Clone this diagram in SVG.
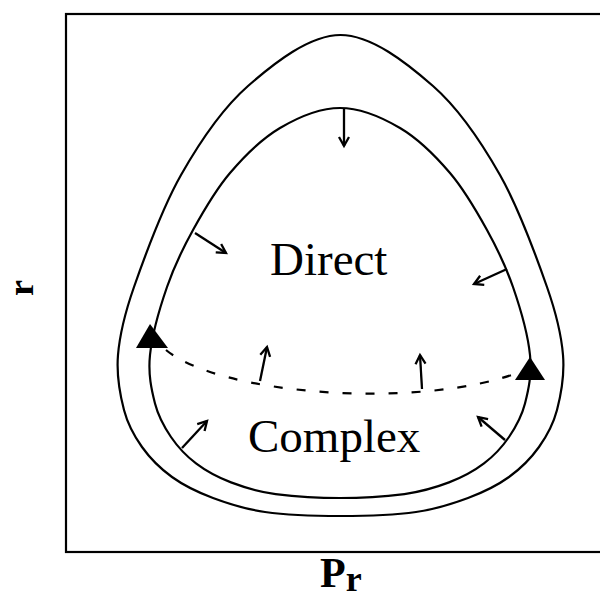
<svg xmlns="http://www.w3.org/2000/svg" width="600" height="599" viewBox="0 0 600 599">
<style>
.curve{fill:none;stroke:#000;stroke-width:2.2}
.arr{fill:none;stroke:#000;stroke-width:2.3;marker-end:url(#ah)}
.lbl{font-family:"Liberation Serif","Times New Roman",serif;font-size:47px;fill:#000}
.ax{font-family:"Liberation Serif","Times New Roman",serif;font-weight:bold;fill:#000}
</style>
<defs>
<marker id="ah" markerUnits="userSpaceOnUse" markerWidth="14" markerHeight="14" viewBox="-11 -7 14 14" refX="0" refY="0" orient="auto">
<path d="M-9,-5 L0,0 L-9,5" fill="none" stroke="#000" stroke-width="2.3"/>
</marker>
</defs>
<rect x="0" y="0" width="600" height="599" fill="#fff"/>
<g id="frame">
<rect x="66" y="14" width="540" height="538" fill="none" stroke="#000" stroke-width="2.2"/>
</g>
<g id="outer">
<path class="curve" d="M340.5,35 C371.3,35 406.4,62.7 433,86 C459.6,109.3 481,141.5 500,175 C519,208.5 536.5,257 547,287 C557.5,317 561.3,334.5 563,355 C564.7,375.5 561,394.7 557,410 C553,425.3 547,435.8 539,447 C531,458.2 520.8,468.5 509,477 C497.2,485.5 483.5,492.2 468,498 C452.5,503.8 437.25,509 416,512 C394.75,515 365.7,516 340.5,516 C315.3,516 286.25,515 265,512 C243.75,509 228.5,503.8 213,498 C197.5,492.2 183.8,485.5 172,477 C160.2,468.5 150,458.2 142,447 C134,435.8 128,425.3 124,410 C120,394.7 116.3,375.5 118,355 C119.7,334.5 123.5,317 134,287 C144.5,257 162,208.5 181,175 C200,141.5 221.4,109.3 248,86 C274.6,62.7 309.7,35 340.5,35 Z"/>
</g>
<g id="inner">
<path class="curve" d="M340,108 C360,108 381.7,117.2 400,128 C418.3,138.8 435.5,156 450,173 C464.5,190 476.5,211 487,230 C497.5,249 505.8,266.2 513,287 C520.2,307.8 528,335.6 530,355 C532,374.4 528.5,389.8 525,403.5 C521.5,417.2 515.8,427 509,437 C502.2,447 494,455.8 484,463.4 C474,471 462.3,477.3 449,482.4 C435.7,487.5 422.6,491.5 404.4,494.1 C382.9,496.7 361.5,498 340,498 C318.5,498 297.1,496.7 275.6,494.1 C257.4,491.5 244.3,487.5 231,482.4 C217.7,477.3 206,471 196,463.4 C186,455.8 177.8,447 171,437 C164.2,427 158.5,417.2 155,403.5 C151.5,389.8 148,374.4 150,355 C152,335.6 159.8,307.8 167,287 C174.2,266.2 182.5,249 193,230 C203.5,211 215.5,190 230,173 C244.5,156 261.7,138.8 280,128 C298.3,117.2 320,108 340,108 Z"/>
</g>
<g id="separatrix">
<path d="M166,350 C220,395 420,410 520,372" fill="none" stroke="#000" stroke-width="2.2" stroke-dasharray="9 14"/>
<polygon points="150,324 136,348 168,348" fill="#000"/>
<polygon points="530,357 515,380 545,380" fill="#000"/>
</g>
<g id="connectors">
<line class="arr" x1="344" y1="108" x2="344" y2="146"/>
<line class="arr" x1="195" y1="233" x2="226" y2="253"/>
<line class="arr" x1="507" y1="269" x2="474" y2="284"/>
<line class="arr" x1="260" y1="381" x2="267" y2="347"/>
<line class="arr" x1="422" y1="389" x2="420" y2="355"/>
<line class="arr" x1="182" y1="448" x2="207" y2="421"/>
<line class="arr" x1="505" y1="440" x2="478" y2="417"/>
</g>
<g id="direct"><text class="lbl" x="270" y="275">Direct</text></g>
<g id="complex"><text class="lbl" x="248" y="452">Complex</text></g>
<g id="xlabel"><text class="ax" x="320" y="587" font-size="42">P<tspan font-size="36" dy="4">r</tspan></text></g>
<g id="ylabel"><text class="ax" font-size="36" transform="translate(33,296) rotate(-90)">r</text></g>
</svg>
